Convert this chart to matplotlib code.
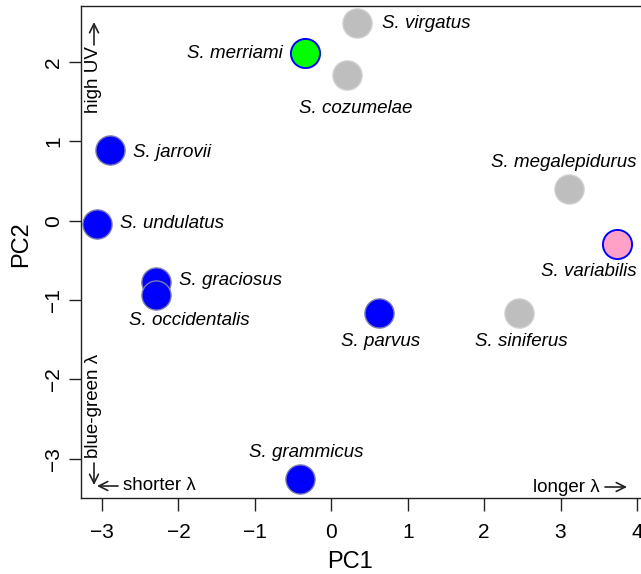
#!/usr/bin/env python3
"""PCA of spectral reflectance: species scores on PC1 / PC2."""
import matplotlib
matplotlib.use("Agg")
import matplotlib.pyplot as plt

plt.rcParams["font.family"] = ["Liberation Sans", "DejaVu Sans"]

# --- data ---
species = ["S. virgatus", "S. merriami", "S. cozumelae", "S. jarrovii",
           "S. undulatus", "S. graciosus", "S. occidentalis", "S. parvus",
           "S. siniferus", "S. megalepidurus", "S. variabilis", "S. grammicus"]
pc1 = [0.34, -0.34, 0.20, -2.90, -3.07, -2.30, -2.30, 0.62, 2.46, 3.11, 3.74, -0.41]
pc2 = [2.49, 2.11, 1.83, 0.89, -0.04, -0.77, -0.94, -1.17, -1.17, 0.40, -0.29, -3.26]
fills = ["#BEBEBE", "#00FF00", "#BEBEBE", "#0000FF", "#0000FF", "#0000FF",
         "#0000FF", "#0000FF", "#BEBEBE", "#BEBEBE", "#FFA0C8", "#0000FF"]
edges = ["#CFCFCF", "#0000FF", "#CFCFCF", "#7A7AB0", "#7A7AB0", "#7A7AB0",
         "#7A7AB0", "#7A7AB0", "#CFCFCF", "#CFCFCF", "#0000FF", "#7A7AB0"]
# label placement: (dx, dy) in points, ha
label_pos = [(18, 0, "left"), (-16.5, 0, "right"), (6.5, -24, "center"),
             (16.5, -1.5, "left"), (16.5, 0, "left"), (17, 1, "left"),
             (24.5, -18.5, "center"), (1, -20.5, "center"), (1.5, -20.5, "center"),
             (-3.5, 19, "center"), (14, -20, "right"), (4.5, 19.5, "center")]

W, H = 641, 574
fig = plt.figure(figsize=(W / 100, H / 100), dpi=100)
ax = fig.add_axes([81 / W, 1 - 498 / H, (648.4 - 81) / W, (498 - 5.7) / H])
ax.set_xlim(-3.276, 4.15)
ax.set_ylim(-3.497, 2.71)

for i, name in enumerate(species):
    lw = 1.4 if edges[i] == "#0000FF" else 1.0
    ax.scatter(pc1[i], pc2[i], s=440, c=fills[i], edgecolors=edges[i],
               linewidths=lw, zorder=3)
    dx, dy, ha = label_pos[i]
    ax.annotate(name, (pc1[i], pc2[i]), xytext=(dx, dy), textcoords="offset points",
                ha=ha, va="center", fontsize=13.5, style="italic")

for side in ("left", "bottom", "top"):
    ax.spines[side].set_linewidth(1.0)
    ax.spines[side].set_color("#222222")
ax.spines["right"].set_visible(False)

ax.set_xticks([-3, -2, -1, 0, 1, 2, 3, 4])
ax.set_yticks([-3, -2, -1, 0, 1, 2])
ax.set_xticklabels(["\u22123", "\u22122", "\u22121", "0", "1", "2", "3", "4"])
ax.set_yticklabels(["\u22123", "\u22122", "\u22121", "0", "1", "2"],
                   rotation=90, va="center")
ax.tick_params(axis="both", length=9, width=1.0, color="#222222", labelsize=15)
ax.tick_params(axis="x", pad=9)
ax.tick_params(axis="y", pad=4)

fig.text(350 / W, 1 - 562 / H, "PC1", ha="center", va="center", fontsize=17)
fig.text(21 / W, 1 - 244 / H, "PC2", ha="center", va="center", fontsize=17,
         rotation=90)


def px(x, y):
    return (x / W, 1 - y / H)


# direction hints: text plus open arrows
fs = 13.5
arrow = dict(arrowstyle="->", color="#222222", lw=1.2, mutation_scale=16,
             shrinkA=0, shrinkB=0)
fig.text(*px(94, 113), "high UV", rotation=90, ha="center", va="bottom", fontsize=fs)
ax.annotate("", xy=px(94, 22), xytext=px(94, 45), xycoords="figure fraction",
            textcoords="figure fraction", arrowprops=arrow)
fig.text(*px(94, 458), "blue-green \u03bb", rotation=90, ha="center", va="bottom",
         fontsize=fs)
ax.annotate("", xy=px(94, 485), xytext=px(94, 463), xycoords="figure fraction",
            textcoords="figure fraction", arrowprops=arrow)
fig.text(*px(123, 486), "shorter \u03bb", ha="left", va="center", fontsize=fs)
ax.annotate("", xy=px(97, 486), xytext=px(118, 486), xycoords="figure fraction",
            textcoords="figure fraction", arrowprops=arrow)
fig.text(*px(600, 487), "longer \u03bb", ha="right", va="center", fontsize=fs)
ax.annotate("", xy=px(627, 487), xytext=px(605, 487), xycoords="figure fraction",
            textcoords="figure fraction", arrowprops=arrow)

fig.savefig("out.png", dpi=100)
